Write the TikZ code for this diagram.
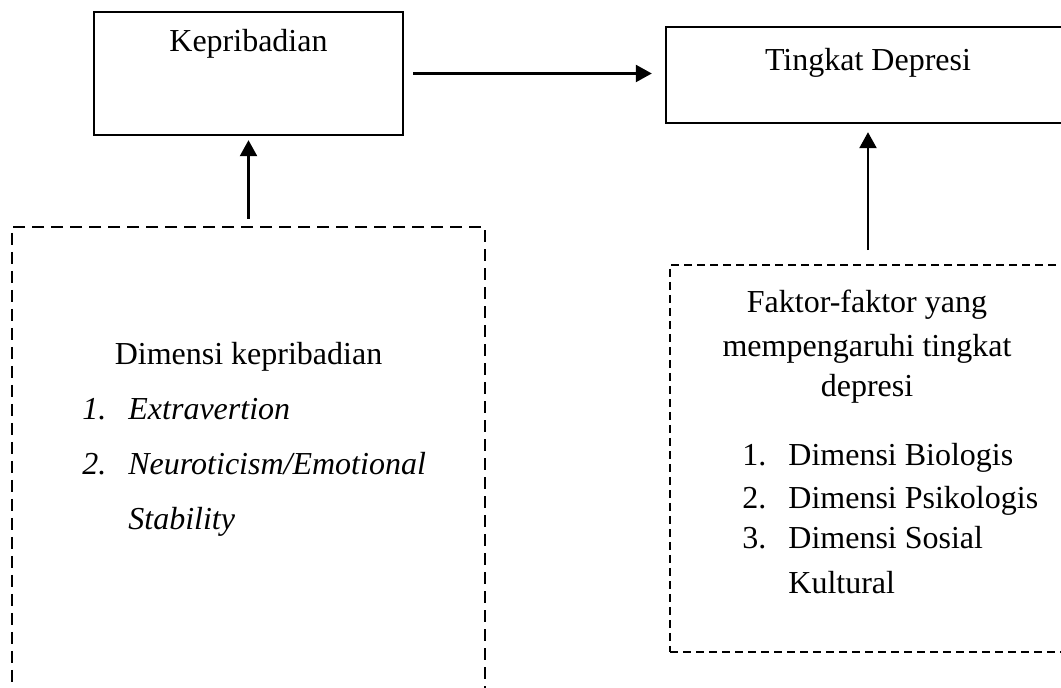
\documentclass[tikz,border=0pt]{standalone}
\usepackage{fontspec}
\setmainfont{Liberation Serif}
\usetikzlibrary{arrows.meta}
\begin{document}
\begin{tikzpicture}[x=0.5pt,y=-0.5pt,
  solidbox/.style={draw, line width=1.2pt, rectangle, inner sep=0pt},
  dashbox/.style={draw, line width=1.1pt, rectangle, inner sep=0pt, dash pattern=on 6pt off 3.5pt},
  dashboxb/.style={draw, line width=0.9pt, rectangle, inner sep=0pt, dash pattern=on 4pt off 2.5pt},
  txt/.style={anchor=base, inner sep=0pt, font=\fontsize{16}{19}\selectfont},
  txtl/.style={anchor=base west, inner sep=0pt, font=\fontsize{16}{19}\selectfont},
  txti/.style={anchor=base west, inner sep=0pt, font=\fontsize{16}{19}\selectfont\itshape},
  conn/.style={line width=1.2pt, -{Triangle[length=8pt,width=8.5pt]}}]
\useasboundingbox (0,0) rectangle (1061,688);
\clip (0,0) rectangle (1061,688);

% boxes
\node[solidbox, minimum width=154.5pt, minimum height=61.5pt] (kep) at (248.5,73.5) {};
\node[solidbox, minimum width=202pt, minimum height=48pt] (tin) at (868,75) {};
\node[dashbox, minimum width=236.5pt, minimum height=236.5pt] (dim) at (248.5,463.5) {};
\node[dashboxb, minimum width=198pt, minimum height=193.5pt] (fak) at (868,458.5) {};

% box titles
\node[txt] (kept) at (248.5,52) {Kepribadian};
\node[txt] (tint) at (868,71) {Tingkat Depresi};

% left list
\node[txt] (dimt) at (248.5,365) {Dimensi kepribadian};
\node[txti] (d1n) at (82,420) {1.};
\node[txti] (d1) at (128,420) {Extravertion};
\node[txti] (d2n) at (82,475) {2.};
\node[txti] (d2) at (128,475) {Neuroticism/Emotional};
\node[txti] (d2b) at (128,530) {Stability};

% right list
\node[txt] (f1) at (867,313) {Faktor-faktor yang};
\node[txt] (f2) at (867,357) {mempengaruhi tingkat};
\node[txt] (f3) at (867,397) {depresi};
\node[txtl] (r1n) at (742,466) {1.};
\node[txtl] (r1) at (788,466) {Dimensi Biologis};
\node[txtl] (r2n) at (742,509) {2.};
\node[txtl] (r2) at (788,509) {Dimensi Psikologis};
\node[txtl] (r3n) at (742,549) {3.};
\node[txtl] (r3) at (788,549) {Dimensi Sosial};
\node[txtl] (r3b) at (788,594) {Kultural};

% connectors
\draw[conn, shorten <=4.5pt, shorten >=6.5pt] (kep.east) -- (kep.east -| tin.west);
\draw[conn, shorten <=3.5pt, shorten >=2pt] (dim.north) -- (kep.south);
\draw[conn, shorten <=7pt, shorten >=4pt] (fak.north) -- (tin.south);
\end{tikzpicture}
\end{document}
